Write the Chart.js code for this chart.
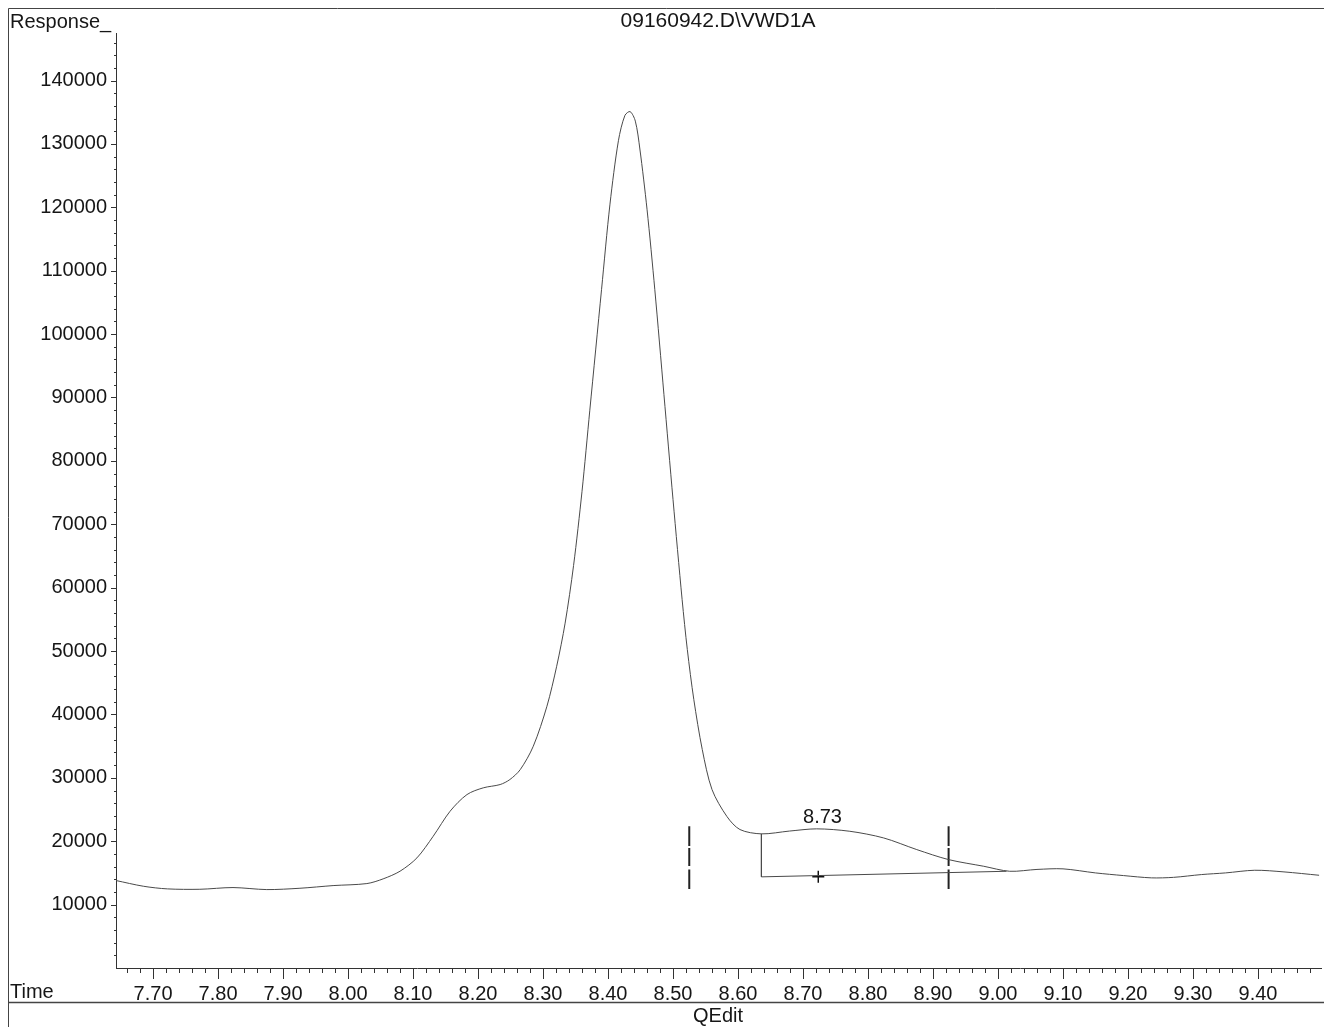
<!DOCTYPE html>
<html>
<head>
<meta charset="utf-8">
<script src="https://cdn.jsdelivr.net/npm/chart.js@4"></script>
<style>
  html, body { margin: 0; padding: 0; background: #fff; }
  #wrap { width: 1324px; height: 1027px; }
</style>
</head>
<body>
<div id="wrap"><canvas id="chromatogram" width="1324" height="1027"></canvas></div>
<script>
// signal trace (time in min, response in counts)
let times = [7.643, 7.685, 7.722, 7.772, 7.823, 7.875, 7.926, 7.977, 8.029, 8.054,
    8.080, 8.106, 8.131, 8.157, 8.183, 8.208, 8.234, 8.249, 8.265, 8.285,
    8.306, 8.321, 8.334, 8.347, 8.360, 8.372, 8.390, 8.403, 8.416, 8.426,
    8.434, 8.442, 8.449, 8.460, 8.472, 8.486, 8.500, 8.514, 8.522,
    8.532, 8.545, 8.560, 8.583, 8.603, 8.636, 8.679, 8.721, 8.772, 8.824,
    8.875, 8.924, 8.978, 9.018, 9.060, 9.100, 9.150, 9.193, 9.236, 9.270,
    9.313, 9.350, 9.395, 9.440, 9.494];
let response = [13800, 12900, 12480, 12420, 12690, 12370, 12580, 13000, 13320, 14060,
    15270, 17370, 20780, 24730, 27360, 28420, 28940, 29730, 31300, 34980,
    41290, 47600, 54400, 63500, 75200, 88000, 107000, 120500, 130500, 134500,
    135100, 133600, 129200, 119700, 107000, 90500, 73900, 58130, 50240,
    42350, 34460, 28150, 23890, 21840, 21160, 21600, 21950, 21570, 20520,
    18680, 17100, 16050, 15260, 15550, 15640, 15000, 14580, 14220, 14300,
    14740, 15000, 15420, 15160, 14630];

// integration baseline of the 8.73 peak
let baseTimes = [8.636, 8.636, 9.013];
let baseValues = [21160, 14380, 15260];

// peak start / end markers (broken vertical bars)
let markerTimes = [8.525, 8.924];
let markerY = [22360, 19230, null, 18920, 16080, null, 15530, 12480];

let peakLabel = '8.73';
let peakLabelTime = 8.73;
let peakLabelY = 23700;
let apexTime = 8.7235;
let apexY = 14380;

// axis ticks
let xMin = 7.643, xMax = 9.498;
let yMin = 0, yMax = 147500;
let xTicks = [];
for (let k = 383; k <= 474; k++) xTicks.push(k / 50);
let yTicks = [];
for (let k = 0; k <= 73; k++) yTicks.push(k * 2000);

let traceData = times.map((t, i) => ({ x: t, y: response[i] }));
let baseData = baseTimes.map((t, i) => ({ x: t, y: baseValues[i] }));

function markerData(t) {
    return markerY.map(v => ({ x: t, y: v }));
}

let FONT = '"Liberation Sans", Arial, sans-serif';
let INK = '#161616';

let decor = {
    id: 'decor',
    beforeDraw(chart) {
        let ctx = chart.ctx;
        ctx.save();
        ctx.fillStyle = '#fff';
        ctx.fillRect(0, 0, chart.width, chart.height);
        ctx.restore();
    },
    afterDraw(chart) {
        let ctx = chart.ctx;
        let xs = chart.scales.x, ys = chart.scales.y;
        ctx.save();
        ctx.strokeStyle = '#333';
        ctx.lineWidth = 1;

        // x tick marks, long on the tenths
        ctx.beginPath();
        xTicks.forEach(v => {
            let px = Math.round(xs.getPixelForValue(v)) + 0.5;
            let major = Math.abs(v * 10 - Math.round(v * 10)) < 1e-6;
            ctx.moveTo(px, xs.top);
            ctx.lineTo(px, xs.top + (major ? 11 : 5));
        });
        // y tick marks
        yTicks.forEach(v => {
            if (v === 0) return;
            let py = Math.round(ys.getPixelForValue(v)) + 0.5;
            let major = v % 10000 === 0;
            ctx.moveTo(ys.right, py);
            ctx.lineTo(ys.right - (major ? 5 : 2), py);
        });
        ctx.stroke();

        // page frame
        ctx.strokeStyle = '#444';
        ctx.beginPath();
        ctx.moveTo(8.5, 1027);
        ctx.lineTo(8.5, 8.5);
        ctx.lineTo(1324, 8.5);
        ctx.stroke();
        ctx.lineWidth = 1.5;
        ctx.beginPath();
        ctx.moveTo(8, 1002.5);
        ctx.lineTo(1324, 1002.5);
        ctx.stroke();

        // texts
        ctx.fillStyle = INK;
        ctx.font = '20px ' + FONT;
        ctx.textBaseline = 'middle';
        ctx.textAlign = 'left';
        ctx.fillText('Response_', 10, 22);
        ctx.fillText('Time', 10, 992);
        ctx.textAlign = 'center';
        ctx.fillText('QEdit', 718, 1016);
        ctx.font = '21px ' + FONT;
        ctx.fillText('09160942.D\\VWD1A', 718, 21);
        ctx.font = '20px ' + FONT;
        ctx.fillText(peakLabel, xs.getPixelForValue(peakLabelTime), ys.getPixelForValue(peakLabelY));
        ctx.restore();
    }
};

let markerSets = markerTimes.map(t => ({
    data: markerData(t),
    borderColor: '#222',
    borderWidth: 2,
    pointRadius: 0,
    spanGaps: false,
    tension: 0
}));

new Chart(document.getElementById('chromatogram'), {
    type: 'line',
    data: {
        datasets: [
            {
                data: traceData,
                borderColor: '#4a4a4a',
                borderWidth: 1,
                pointRadius: 0,
                tension: 0.3
            },
            {
                data: baseData,
                borderColor: '#4a4a4a',
                borderWidth: 1,
                pointRadius: 0,
                tension: 0
            },
            ...markerSets,
            {
                type: 'scatter',
                data: [{ x: apexTime, y: apexY }],
                pointStyle: 'cross',
                pointRadius: 6,
                borderColor: '#111',
                borderWidth: 1.5
            }
        ]
    },
    options: {
        responsive: false,
        animation: false,
        layout: { autoPadding: false, padding: { top: 33, right: 2, left: 0, bottom: 0 } },
        plugins: {
            legend: { display: false },
            tooltip: { enabled: false }
        },
        scales: {
            x: {
                type: 'linear',
                min: xMin,
                max: xMax,
                afterBuildTicks: s => { s.ticks = xTicks.map(v => ({ value: v })); },
                afterFit: s => { s.height = 59; },
                grid: { display: false, drawTicks: false },
                border: { display: true, color: '#333', width: 1 },
                ticks: {
                    autoSkip: false,
                    maxRotation: 0,
                    minRotation: 0,
                    padding: 14,
                    color: INK,
                    font: { family: FONT, size: 20 },
                    callback: v => Math.abs(v * 10 - Math.round(v * 10)) < 1e-6 ? v.toFixed(2) : ''
                }
            },
            y: {
                min: yMin,
                max: yMax,
                afterBuildTicks: s => { s.ticks = yTicks.map(v => ({ value: v })); },
                afterFit: s => { s.width = 116; },
                grid: { display: false, drawTicks: false },
                border: { display: true, color: '#333', width: 1 },
                ticks: {
                    autoSkip: false,
                    padding: 9,
                    color: INK,
                    font: { family: FONT, size: 20 },
                    callback: v => (v > 0 && v % 10000 === 0) ? String(v) : ''
                }
            }
        }
    },
    plugins: [decor]
});
</script>
</body>
</html>
